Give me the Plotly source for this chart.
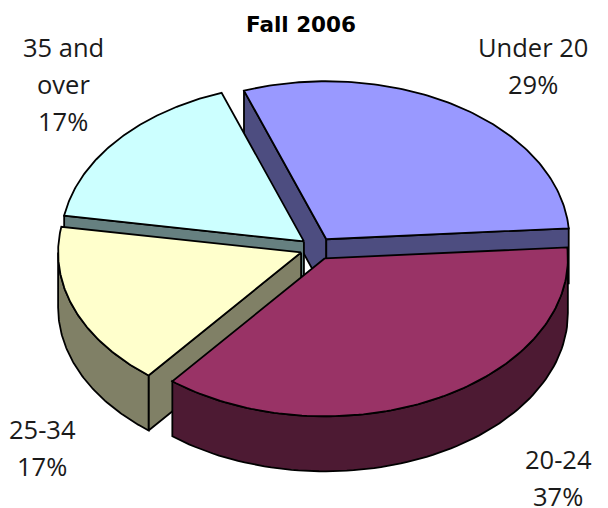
import numpy as np
import plotly.graph_objects as go

# Data
categories = ["Under 20", "20-24", "25-34", "35 and over"]
values = [29.4, 36.9, 16.8, 16.9]
top_colors = ["#9999FF", "#993366", "#FFFFCC", "#CCFFFF"]
side_colors = ["#4D4D80", "#4D1A33", "#808066", "#668080"]
label_lines = [["Under 20", "29%"], ["20-24", "37%"], ["25-34", "17%"], ["35 and", "over", "17%"]]
label_pos = [(533, 47), (558, 459), (42, 429), (63, 47)]
title_text = "Fall 2006"

# Projection of the 3-D pie on the plot's axes
CX, CY, RX, RY, DEPTH = 317, 248.5, 243, 158, 55
EXPLODE = 0.07
START_DEG = -19.8
DRAW_ORDER = [0, 3, 2, 1]

total = sum(values)
edges = START_DEG + np.concatenate([[0], np.cumsum(values)]) * 360 / total


def pt(deg, ox, oy, drop=0):
    t = np.radians(deg)
    return ox + RX * np.sin(t), oy - RY * np.cos(t) + drop


def poly(fig, xs, ys, color):
    xs, ys = list(xs), list(ys)
    fig.add_trace(go.Scatter(
        x=xs + xs[:1], y=ys + ys[:1], mode="lines", fill="toself",
        fillcolor=color, line=dict(color="#000000", width=1.8),
        hoverinfo="skip", showlegend=False))


fig = go.Figure()
for i in DRAW_ORDER:
    a0, a1 = edges[i], edges[i + 1]
    mid = np.radians((a0 + a1) / 2)
    ox = CX + EXPLODE * RX * np.sin(mid)
    oy = CY - EXPLODE * RY * np.cos(mid)
    side = side_colors[i]

    # straight cut faces, only where they face the viewer
    for edge, normal in ((a0, a0 - 90), (a1, a1 + 90)):
        if np.cos(np.radians(normal)) < 0:
            ex, ey = pt(edge, ox, oy)
            poly(fig, [ox, ex, ex, ox], [oy, ey, ey + DEPTH, oy + DEPTH], side)

    # outer rim on the front half of the ellipse
    lo, hi = max(a0, 90), min(a1, 270)
    if hi > lo:
        th = np.linspace(lo, hi, 80)
        tx, ty = pt(th, ox, oy)
        bx, by = pt(th, ox, oy, DEPTH)
        poly(fig, np.r_[tx, bx[::-1]], np.r_[ty, by[::-1]], side)

    # top face
    th = np.linspace(a0, a1, 120)
    ax, ay = pt(th, ox, oy)
    poly(fig, np.r_[ox, ax], np.r_[oy, ay], top_colors[i])

annotations = [dict(x=301, y=24, text=f"<b>{title_text}</b>", showarrow=False,
                    font=dict(family="DejaVu Sans", size=21.5, color="#000000"))]
for lines, (lx, ly) in zip(label_lines, label_pos):
    for k, line in enumerate(lines):
        annotations.append(dict(x=lx, y=ly + 37 * k, text=line, showarrow=False,
                                font=dict(family="Open Sans", size=25.5, color="#1a1a1a")))

fig.update_layout(
    width=608, height=508, margin=dict(l=0, r=0, t=0, b=0),
    paper_bgcolor="white", plot_bgcolor="white", showlegend=False,
    annotations=annotations,
    xaxis=dict(range=[0, 608], visible=False, fixedrange=True),
    yaxis=dict(range=[508, 0], visible=False, fixedrange=True),
)
fig.write_html("out.html", config=dict(displayModeBar=False),
               post_script="document.body.style.margin='0';document.documentElement.style.overflow='hidden';")
